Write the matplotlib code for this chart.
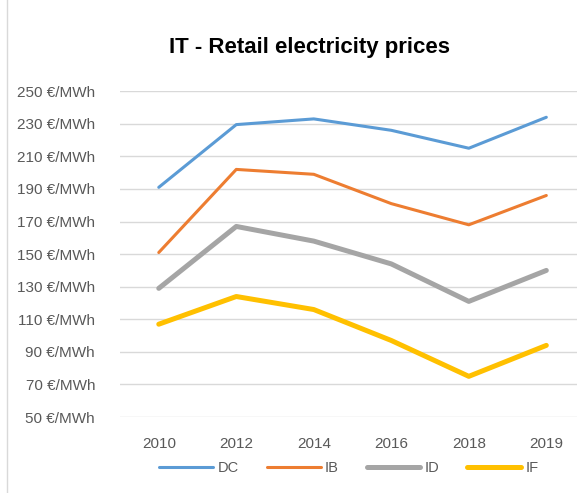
import matplotlib.pyplot as plt
from matplotlib.patches import Rectangle

years = ['2010', '2012', '2014', '2016', '2018', '2019']
dc = [191, 229.5, 233, 226, 215, 234]
ib = [151, 202, 199, 181, 168, 186]
id_ = [129, 167, 158, 144, 121, 140]
if_ = [107, 124, 116, 97, 75, 94]
yticks = list(range(50, 251, 20))

plt.rcParams['font.family'] = ['Liberation Sans', 'DejaVu Sans']

fig = plt.figure(figsize=(5.77, 4.93), dpi=100)
ax = fig.add_axes([0.208, 0.154, 0.806, 0.661])

x = range(len(years))
ax.plot(x, dc, color='#5B9BD5', lw=2.2, label='DC', solid_capstyle='round')
ax.plot(x, ib, color='#ED7D31', lw=2.2, label='IB', solid_capstyle='round')
ax.plot(x, id_, color='#A5A5A5', lw=3.6, label='ID', solid_capstyle='round')
ax.plot(x, if_, color='#FFC000', lw=3.6, label='IF', solid_capstyle='round')

ax.set_xlim(-0.5, 5.5)
ax.set_ylim(50, 250)
ax.set_xticks(list(x))
ax.set_xticklabels(years)
ax.set_yticks(yticks)
ax.set_yticklabels([f'{v} €/MWh' for v in yticks])
ax.tick_params(length=0, labelsize=11, labelcolor='#595959')
ax.tick_params(axis='x', pad=14)
ax.tick_params(axis='y', pad=18)
ax.grid(axis='y', color='#D9D9D9', lw=1)
ax.set_axisbelow(True)
for s in ax.spines.values():
    s.set_visible(False)

fig.text(0.537, 0.903, 'IT - Retail electricity prices', ha='center', va='center',
         fontsize=16, fontweight='bold', color='#000000')

fig.legend(loc='center', bbox_to_anchor=(0.605, 0.05), ncol=4, frameon=False,
           fontsize=10.5, handlelength=3.7, columnspacing=1.9, handletextpad=0.3,
           labelcolor='#595959')

fig.patches.append(Rectangle((0.012, -0.01), 1.2, 1.2, transform=fig.transFigure,
                             fill=False, edgecolor='#D9D9D9', lw=1))

fig.savefig('out.png', dpi=100)
